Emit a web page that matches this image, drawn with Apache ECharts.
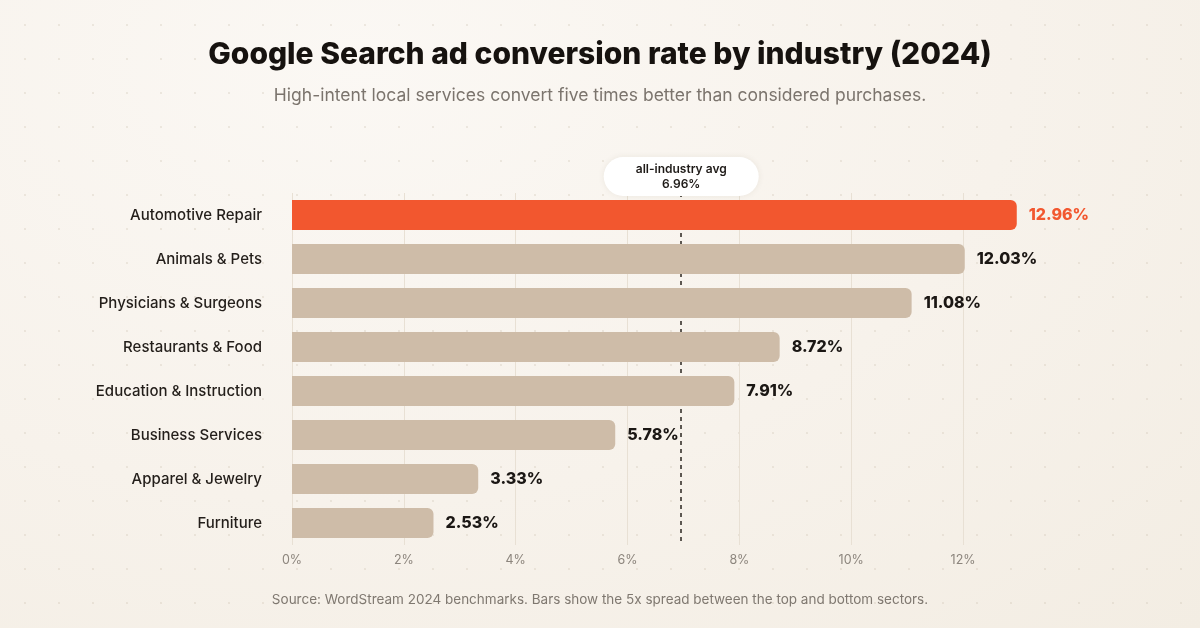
<!DOCTYPE html>
<html>
<head>
<meta charset="utf-8">
<script src="https://cdn.jsdelivr.net/npm/echarts@6/dist/echarts.min.js"></script>
<style>
  html, body { margin: 0; padding: 0; }
  body {
    width: 1200px; height: 628px; overflow: hidden;
    background-color: #f6f1e9;
    background-image:
      radial-gradient(circle, rgba(200, 188, 170, 0.28) 1px, transparent 1.4px),
      radial-gradient(ellipse at 30% 10%, #fbf8f4 0%, #f7f2eb 55%, #f3ede3 100%);
    background-size: 34px 34px, 100% 100%;
    background-position: 8px 8px, 0 0;
  }
  #chart { width: 1200px; height: 628px; }
</style>
</head>
<body>
<div id="chart"></div>
<script>
// Conversion rate (%) by industry, top to bottom
const categories = [
  'Automotive Repair', 'Animals & Pets', 'Physicians & Surgeons', 'Restaurants & Food',
  'Education & Instruction', 'Business Services', 'Apparel & Jewelry', 'Furniture'
];
const rates = [12.96, 12.03, 11.08, 8.72, 7.91, 5.78, 3.33, 2.53];
const highlightIndex = 0;
const industryAvg = 6.96;
const xTicks = [0, 2, 4, 6, 8, 10, 12];

const ORANGE = '#f2572f';
const BEIGE = '#cebca8';

const chart = echarts.init( document.getElementById( 'chart' ), null, { renderer: 'canvas' } );

const barData = rates.map( ( v, i ) => ( {
  value: v,
  itemStyle: { color: i === highlightIndex ? ORANGE : BEIGE },
  label: { color: i === highlightIndex ? ORANGE : '#1b1714' }
} ) );

chart.setOption( {
  backgroundColor: 'transparent',
  title: [
    {
      text: 'Google Search ad conversion rate by industry (2024)',
      left: 'center', top: 35,
      textStyle: { fontFamily: 'Inter', fontWeight: 800, fontSize: 30, color: '#16120f' }
    },
    {
      text: 'High-intent local services convert five times better than considered purchases.',
      left: 'center', top: 82,
      textStyle: { fontFamily: 'Inter', fontWeight: 400, fontSize: 17.5, color: '#7b746d' }
    },
    {
      text: 'Source: WordStream 2024 benchmarks. Bars show the 5x spread between the top and bottom sectors.',
      left: 'center', top: 588,
      textStyle: { fontFamily: 'Inter', fontWeight: 400, fontSize: 13.5, color: '#7f7870' }
    }
  ],
  grid: { left: 292, right: 181, top: 193, height: 352, containLabel: false },
  xAxis: {
    type: 'value',
    min: 0, max: 13, interval: 2,
    axisLine: { show: false },
    axisTick: { show: false },
    axisLabel: {
      showMaxLabel: false,
      margin: 9,
      fontFamily: 'Inter', fontSize: 12.5, color: '#8c857d',
      formatter: ( v ) => xTicks.includes( v ) ? v + '%' : ''
    },
    splitLine: { show: true, showMaxLine: false, lineStyle: { color: '#e8e0d4', width: 1 } }
  },
  yAxis: {
    type: 'category',
    data: categories,
    inverse: true,
    axisLine: { show: false },
    axisTick: { show: false },
    axisLabel: {
      margin: 30,
      fontFamily: 'Inter', fontWeight: 500, fontSize: 15, color: '#231e1a'
    }
  },
  series: [
    {
      type: 'bar',
      z: 3,
      data: barData,
      barWidth: 30,
      itemStyle: { borderRadius: [0, 6, 6, 0] },
      label: {
        show: true,
        position: 'right',
        distance: 12,
        fontFamily: 'Inter', fontWeight: 800, fontSize: 16,
        formatter: ( p ) => p.value.toFixed( 2 ) + '%'
      },
      markLine: {
        silent: true,
        symbol: 'none',
        z: 1,
        lineStyle: { color: '#5d5852', type: [4, 4], width: 2 },
        label: {
          show: true,
          position: 'start',
          distance: -3,
          formatter: 'all-industry avg\n' + industryAvg.toFixed( 2 ) + '%',
          backgroundColor: '#ffffff',
          borderRadius: 20,
          padding: [5, 32, 4, 32],
          lineHeight: 15,
          fontFamily: 'Inter', fontWeight: 600, fontSize: 12, color: '#1e1a17',
          shadowColor: 'rgba(80,60,40,0.08)', shadowBlur: 6
        },
        data: [ { xAxis: industryAvg } ]
      }
    }
  ]
} );
</script>
</body>
</html>
